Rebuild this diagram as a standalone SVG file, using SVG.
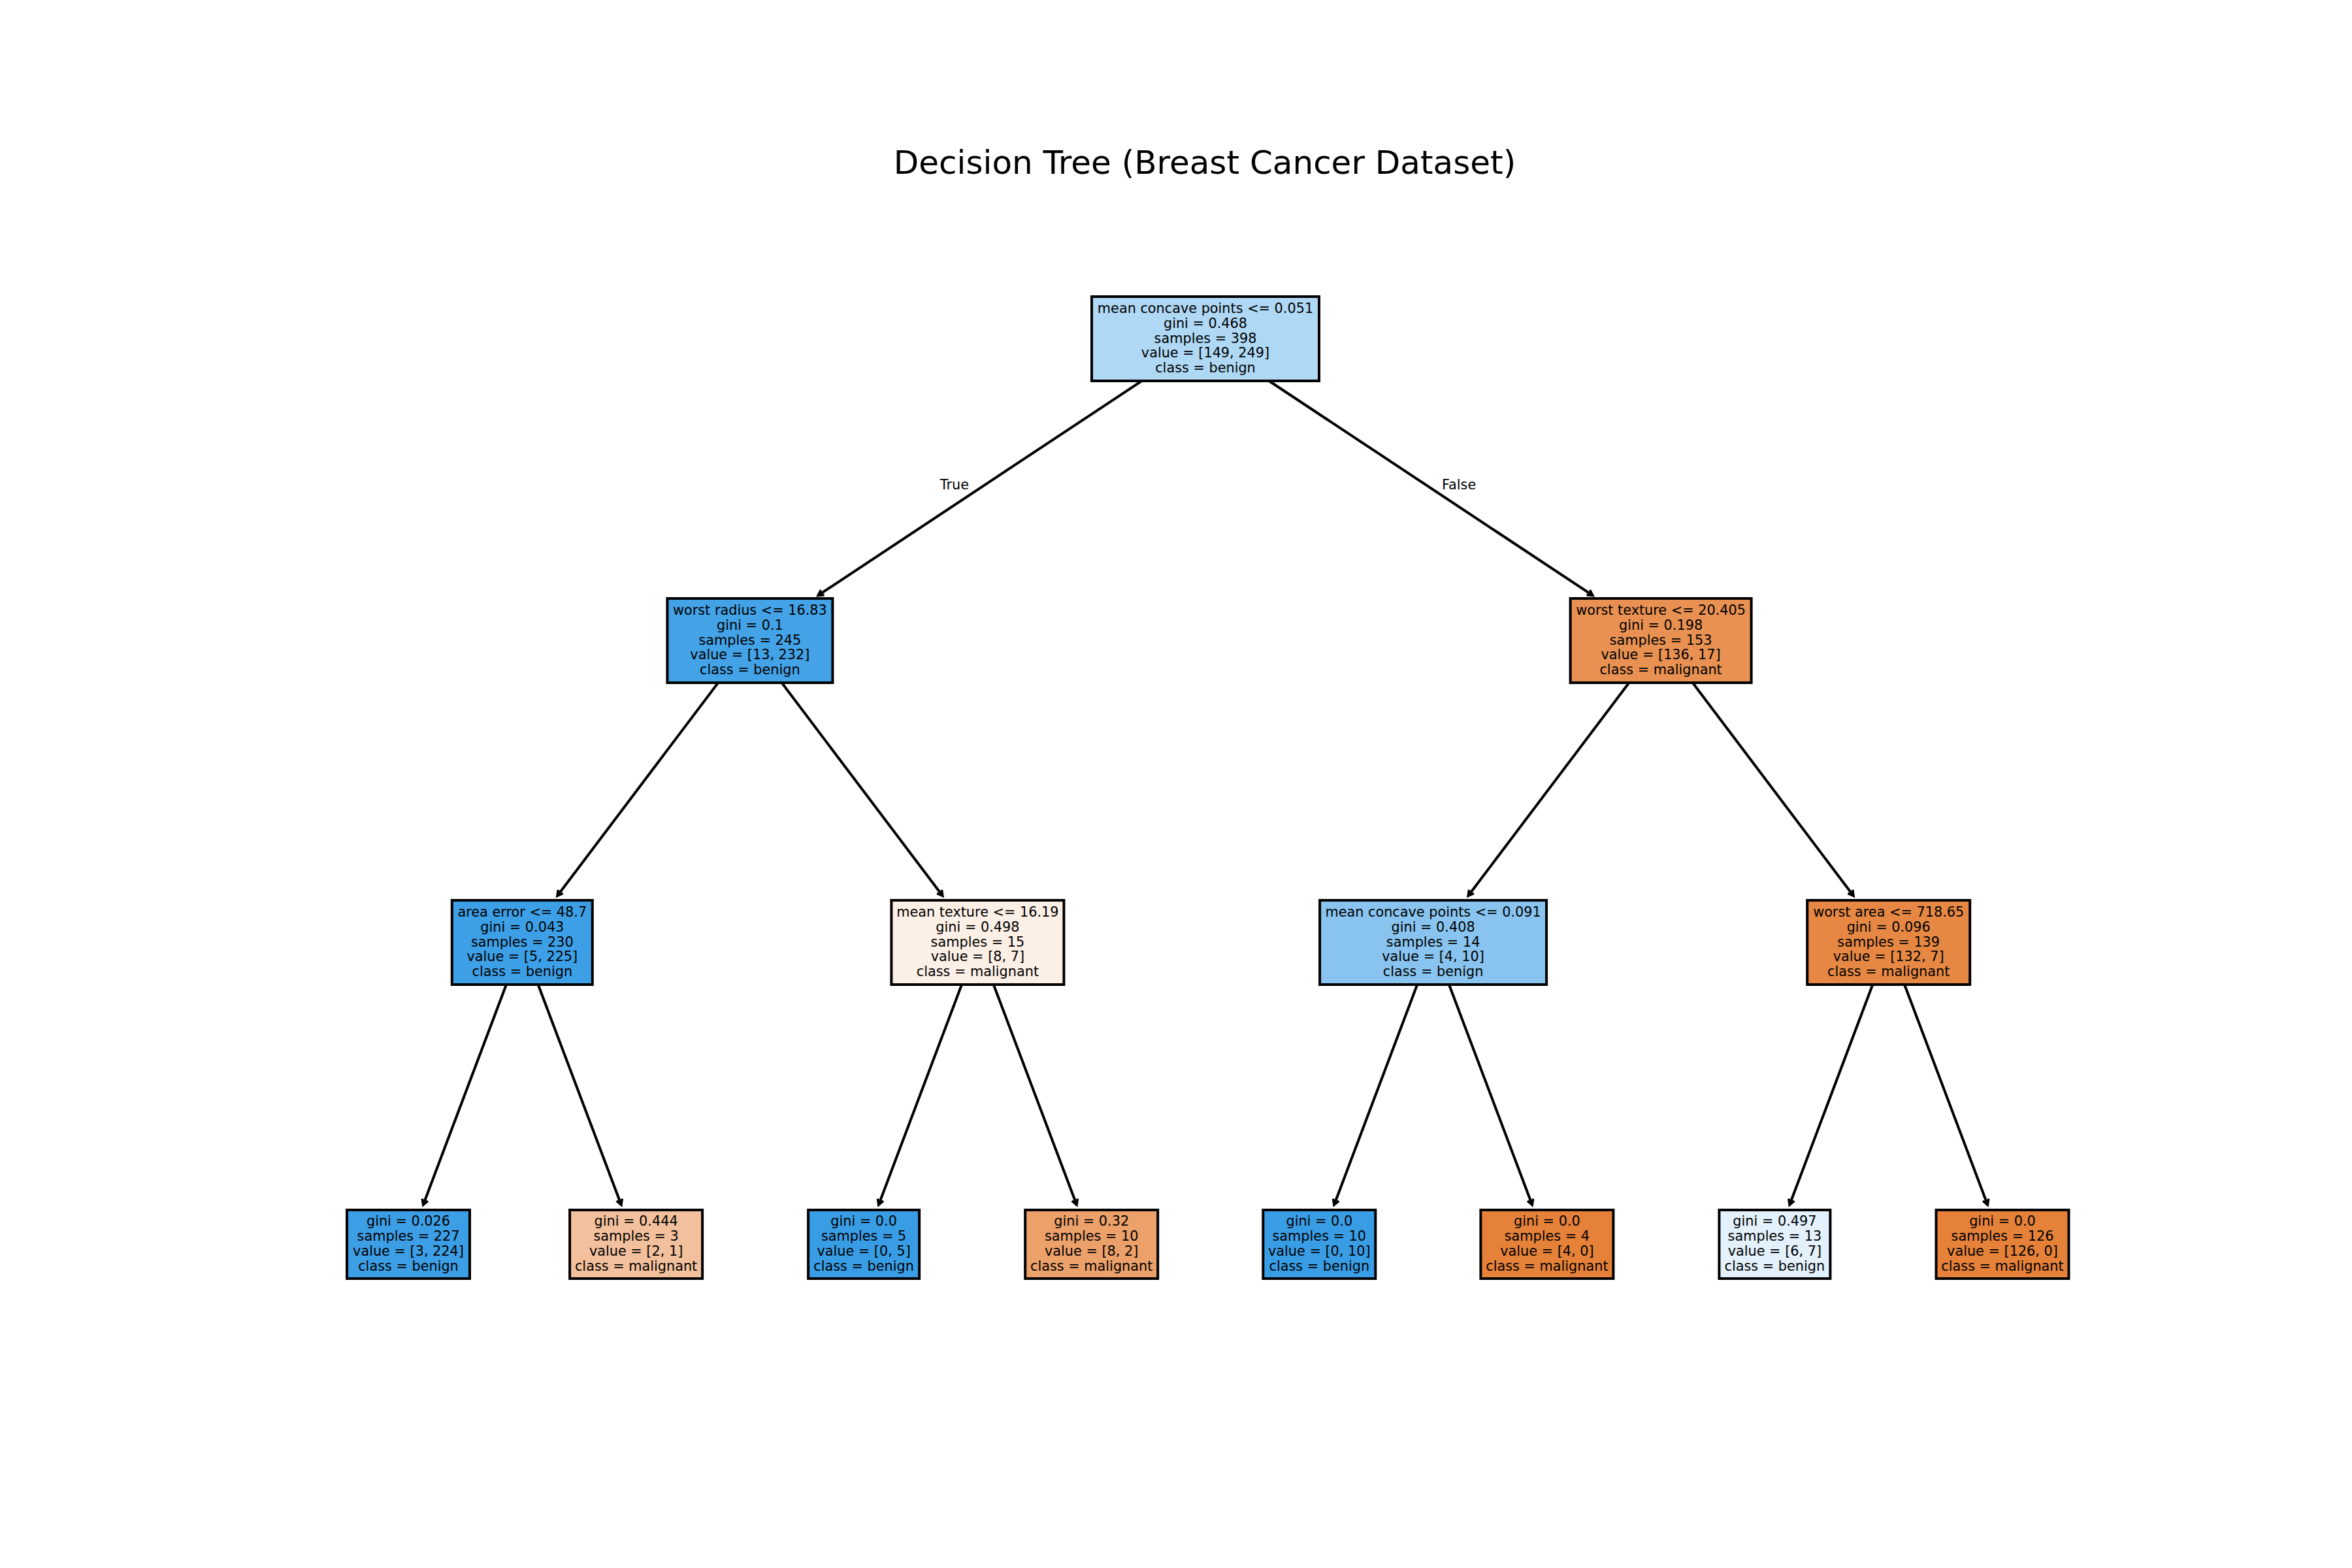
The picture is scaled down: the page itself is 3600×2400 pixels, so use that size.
<svg xmlns="http://www.w3.org/2000/svg" width="3600" height="2400" viewBox="0 0 3600 2400">
<defs>
<style>
.box{stroke:#000;stroke-width:4}
.t{font-family:"DejaVu Sans","Liberation Sans",sans-serif;font-size:20.8px;fill:#000;text-anchor:middle}
.edge{stroke:#000;stroke-width:4;fill:none}
.lbl{font-family:"DejaVu Sans","Liberation Sans",sans-serif;font-size:20.8px;fill:#000}
.title{font-family:"DejaVu Sans","Liberation Sans",sans-serif;font-size:50px;fill:#000;text-anchor:middle}
</style>
<marker id="ah" markerUnits="userSpaceOnUse" markerWidth="30" markerHeight="30" viewBox="-15 -15 30 30" refX="0" refY="0" orient="auto" overflow="visible">
<path d="M-8.3,-4.6 L0,0 L-8.3,4.6" fill="none" stroke="#000" stroke-width="3.6"/>
</marker>
</defs>
<rect width="3600" height="2400" fill="#ffffff"/>
<text class="title" x="1844" y="266">Decision Tree (Breast Cancer Dataset)</text>

<g id="connectors">
<line class="edge" x1="1845" y1="518.5" x2="1252.1" y2="911.4" marker-end="url(#ah)"/>
<line class="edge" x1="1845" y1="518.5" x2="2437.9" y2="911.4" marker-end="url(#ah)"/>
<line class="edge" x1="1147.9" y1="980.5" x2="853.0" y2="1371.3" marker-end="url(#ah)"/>
<line class="edge" x1="1147.9" y1="980.5" x2="1442.8" y2="1371.3" marker-end="url(#ah)"/>
<line class="edge" x1="2542.1" y1="980.5" x2="2247.2" y2="1371.3" marker-end="url(#ah)"/>
<line class="edge" x1="2542.1" y1="980.5" x2="2837.0" y2="1371.3" marker-end="url(#ah)"/>
<line class="edge" x1="799.3" y1="1442.5" x2="647.7" y2="1844.2" marker-end="url(#ah)"/>
<line class="edge" x1="799.3" y1="1442.5" x2="950.9" y2="1844.2" marker-end="url(#ah)"/>
<line class="edge" x1="1496.4" y1="1442.5" x2="1344.8" y2="1844.2" marker-end="url(#ah)"/>
<line class="edge" x1="1496.4" y1="1442.5" x2="1648.0" y2="1844.2" marker-end="url(#ah)"/>
<line class="edge" x1="2193.6" y1="1442.5" x2="2042.0" y2="1844.2" marker-end="url(#ah)"/>
<line class="edge" x1="2193.6" y1="1442.5" x2="2345.2" y2="1844.2" marker-end="url(#ah)"/>
<line class="edge" x1="2890.7" y1="1442.5" x2="2739.1" y2="1844.2" marker-end="url(#ah)"/>
<line class="edge" x1="2890.7" y1="1442.5" x2="3042.3" y2="1844.2" marker-end="url(#ah)"/>
<text class="lbl" x="1483" y="749" text-anchor="end">True</text>
<text class="lbl" x="2207" y="749">False</text>
</g>

<g id="node0">
<rect class="box" x="1671" y="454" width="348" height="129" fill="#afd8f5"/>
<text class="t" x="1845" y="479"><tspan x="1845">mean concave points &lt;= 0.051</tspan><tspan x="1845" dy="22.8">gini = 0.468</tspan><tspan x="1845" dy="22.8">samples = 398</tspan><tspan x="1845" dy="22.8">value = [149, 249]</tspan><tspan x="1845" dy="22.8">class = benign</tspan></text>
</g>

<g id="node1">
<rect class="box" x="1021.4" y="916" width="253" height="129" fill="#44a2e6"/>
<text class="t" x="1147.9" y="941"><tspan x="1147.9">worst radius &lt;= 16.83</tspan><tspan x="1147.9" dy="22.8">gini = 0.1</tspan><tspan x="1147.9" dy="22.8">samples = 245</tspan><tspan x="1147.9" dy="22.8">value = [13, 232]</tspan><tspan x="1147.9" dy="22.8">class = benign</tspan></text>
</g>

<g id="node8">
<rect class="box" x="2403.6" y="916" width="277" height="129" fill="#e89152"/>
<text class="t" x="2542.1" y="941"><tspan x="2542.1">worst texture &lt;= 20.405</tspan><tspan x="2542.1" dy="22.8">gini = 0.198</tspan><tspan x="2542.1" dy="22.8">samples = 153</tspan><tspan x="2542.1" dy="22.8">value = [136, 17]</tspan><tspan x="2542.1" dy="22.8">class = malignant</tspan></text>
</g>

<g id="node2">
<rect class="box" x="691.8" y="1378" width="215" height="129" fill="#3d9fe6"/>
<text class="t" x="799.3" y="1403"><tspan x="799.3">area error &lt;= 48.7</tspan><tspan x="799.3" dy="22.8">gini = 0.043</tspan><tspan x="799.3" dy="22.8">samples = 230</tspan><tspan x="799.3" dy="22.8">value = [5, 225]</tspan><tspan x="799.3" dy="22.8">class = benign</tspan></text>
</g>

<g id="node5">
<rect class="box" x="1364.4" y="1378" width="264" height="129" fill="#fcefe6"/>
<text class="t" x="1496.4" y="1403"><tspan x="1496.4">mean texture &lt;= 16.19</tspan><tspan x="1496.4" dy="22.8">gini = 0.498</tspan><tspan x="1496.4" dy="22.8">samples = 15</tspan><tspan x="1496.4" dy="22.8">value = [8, 7]</tspan><tspan x="1496.4" dy="22.8">class = malignant</tspan></text>
</g>

<g id="node9">
<rect class="box" x="2020.1" y="1378" width="347" height="129" fill="#88c4ef"/>
<text class="t" x="2193.6" y="1403"><tspan x="2193.6">mean concave points &lt;= 0.091</tspan><tspan x="2193.6" dy="22.8">gini = 0.408</tspan><tspan x="2193.6" dy="22.8">samples = 14</tspan><tspan x="2193.6" dy="22.8">value = [4, 10]</tspan><tspan x="2193.6" dy="22.8">class = benign</tspan></text>
</g>

<g id="node12">
<rect class="box" x="2766.2" y="1378" width="249" height="129" fill="#e68844"/>
<text class="t" x="2890.7" y="1403"><tspan x="2890.7">worst area &lt;= 718.65</tspan><tspan x="2890.7" dy="22.8">gini = 0.096</tspan><tspan x="2890.7" dy="22.8">samples = 139</tspan><tspan x="2890.7" dy="22.8">value = [132, 7]</tspan><tspan x="2890.7" dy="22.8">class = malignant</tspan></text>
</g>

<g id="node3">
<rect class="box" x="531" y="1852" width="188" height="105" fill="#3c9ee5"/>
<text class="t" x="625" y="1876"><tspan x="625">gini = 0.026</tspan><tspan x="625" dy="22.9">samples = 227</tspan><tspan x="625" dy="22.9">value = [3, 224]</tspan><tspan x="625" dy="22.9">class = benign</tspan></text>
</g>

<g id="node4">
<rect class="box" x="872.1" y="1852" width="203" height="105" fill="#f2c09c"/>
<text class="t" x="973.6" y="1876"><tspan x="973.6">gini = 0.444</tspan><tspan x="973.6" dy="22.9">samples = 3</tspan><tspan x="973.6" dy="22.9">value = [2, 1]</tspan><tspan x="973.6" dy="22.9">class = malignant</tspan></text>
</g>

<g id="node6">
<rect class="box" x="1237.1" y="1852" width="170" height="105" fill="#399de5"/>
<text class="t" x="1322.1" y="1876"><tspan x="1322.1">gini = 0.0</tspan><tspan x="1322.1" dy="22.9">samples = 5</tspan><tspan x="1322.1" dy="22.9">value = [0, 5]</tspan><tspan x="1322.1" dy="22.9">class = benign</tspan></text>
</g>

<g id="node7">
<rect class="box" x="1569.2" y="1852" width="203" height="105" fill="#eca06a"/>
<text class="t" x="1670.7" y="1876"><tspan x="1670.7">gini = 0.32</tspan><tspan x="1670.7" dy="22.9">samples = 10</tspan><tspan x="1670.7" dy="22.9">value = [8, 2]</tspan><tspan x="1670.7" dy="22.9">class = malignant</tspan></text>
</g>

<g id="node10">
<rect class="box" x="1933.3" y="1852" width="172" height="105" fill="#399de5"/>
<text class="t" x="2019.3" y="1876"><tspan x="2019.3">gini = 0.0</tspan><tspan x="2019.3" dy="22.9">samples = 10</tspan><tspan x="2019.3" dy="22.9">value = [0, 10]</tspan><tspan x="2019.3" dy="22.9">class = benign</tspan></text>
</g>

<g id="node11">
<rect class="box" x="2266.4" y="1852" width="203" height="105" fill="#e58139"/>
<text class="t" x="2367.9" y="1876"><tspan x="2367.9">gini = 0.0</tspan><tspan x="2367.9" dy="22.9">samples = 4</tspan><tspan x="2367.9" dy="22.9">value = [4, 0]</tspan><tspan x="2367.9" dy="22.9">class = malignant</tspan></text>
</g>

<g id="node13">
<rect class="box" x="2631.4" y="1852" width="170" height="105" fill="#e3f1fc"/>
<text class="t" x="2716.4" y="1876"><tspan x="2716.4">gini = 0.497</tspan><tspan x="2716.4" dy="22.9">samples = 13</tspan><tspan x="2716.4" dy="22.9">value = [6, 7]</tspan><tspan x="2716.4" dy="22.9">class = benign</tspan></text>
</g>

<g id="node14">
<rect class="box" x="2963.5" y="1852" width="203" height="105" fill="#e58139"/>
<text class="t" x="3065" y="1876"><tspan x="3065">gini = 0.0</tspan><tspan x="3065" dy="22.9">samples = 126</tspan><tspan x="3065" dy="22.9">value = [126, 0]</tspan><tspan x="3065" dy="22.9">class = malignant</tspan></text>
</g>
</svg>
